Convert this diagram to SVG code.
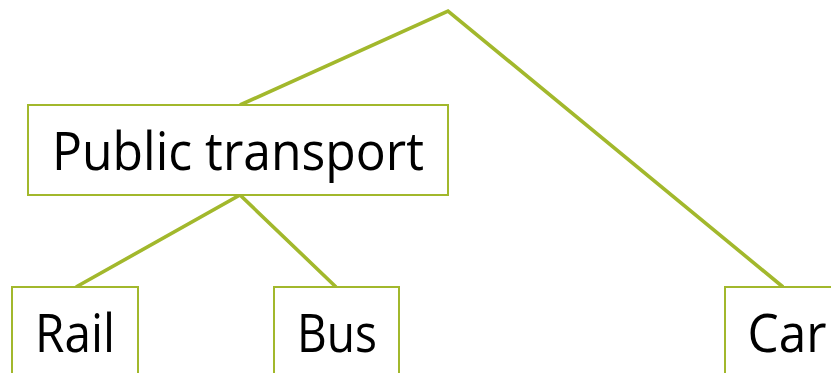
<svg xmlns="http://www.w3.org/2000/svg" width="831" height="373" viewBox="0 0 831 373">
  <style>
    .box { fill: #ffffff; stroke: #a2b82c; stroke-width: 2; }
    .link { fill: none; stroke: #a2b82c; stroke-width: 3.6; stroke-linejoin: miter; }
    .label { font-family: "Open Sans", "Liberation Sans", sans-serif; font-size: 53px; fill: #000000; text-anchor: middle; }
  </style>
  <g id="connectors">
    <polyline class="link" points="240,105 448,11 783,287"/>
    <polyline class="link" points="76,287 240,195 336,287"/>
  </g>
  <g id="public-transport">
    <rect class="box" x="28" y="105" width="420" height="90"/>
    <text class="label" x="238" y="170" textLength="372" lengthAdjust="spacingAndGlyphs">Public transport</text>
  </g>
  <g id="rail">
    <rect class="box" x="12" y="287" width="126" height="100"/>
    <text class="label" x="75" y="352" textLength="80" lengthAdjust="spacingAndGlyphs">Rail</text>
  </g>
  <g id="bus">
    <rect class="box" x="274" y="287" width="125" height="100"/>
    <text class="label" x="337" y="352" textLength="80" lengthAdjust="spacingAndGlyphs">Bus</text>
  </g>
  <g id="car">
    <rect class="box" x="725" y="287" width="126" height="100"/>
    <text class="label" x="787" y="352" textLength="79" lengthAdjust="spacingAndGlyphs">Car</text>
  </g>
</svg>
